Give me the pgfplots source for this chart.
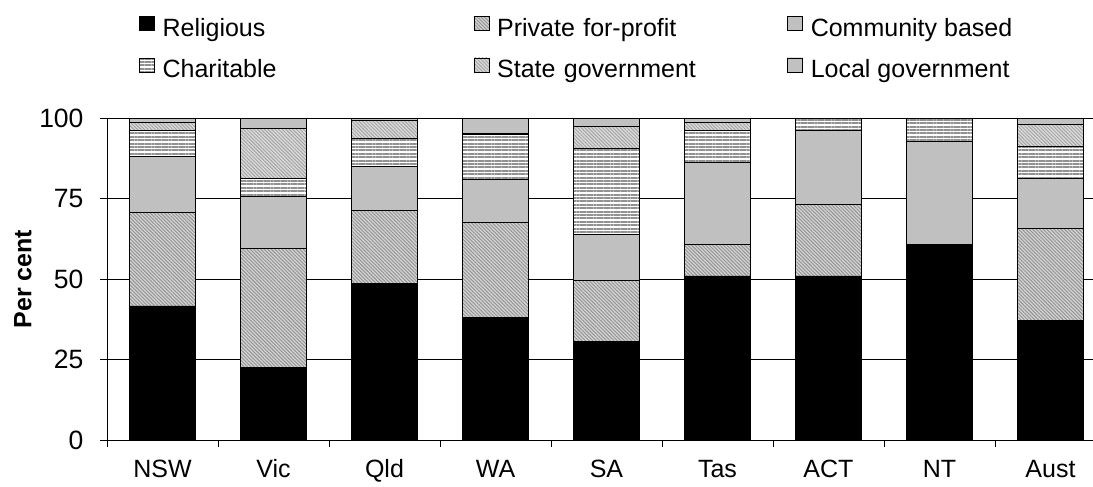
\documentclass[border=0pt]{standalone}
\usepackage{fontspec}
\setmainfont{Liberation Sans}
\usepackage{pgfplots}
\usepackage{pgfplotstable}
\pgfplotsset{compat=1.18}
\usetikzlibrary{patterns,patterns.meta}

\definecolor{comm}{RGB}{192,192,192}
\definecolor{hbg}{RGB}{210,210,210}
\definecolor{hln}{RGB}{145,145,145}
\definecolor{sbg}{RGB}{216,216,216}
\definecolor{sln}{RGB}{160,160,160}
\definecolor{cln}{RGB}{145,145,145}
\definecolor{lbg}{RGB}{215,215,215}
\definecolor{lln}{RGB}{120,120,120}

\pgfplotstableread{
x rel priv comm char state local
0 41.7 29.0 17.4 8.2 2.3 1.4
1 22.5 37.1 16.0 5.7 15.6 3.1
2 48.7 22.6 13.7 8.8 5.7 0.5
3 38.0 29.7 13.4 13.8 0.5 4.6
4 30.6 18.9 14.4 26.8 6.8 2.5
5 51.0 9.8 25.4 10.1 2.5 1.2
6 51.0 22.3 23.0 3.7 0.0 0.0
7 60.8 0.0 32.2 7.0 0.0 0.0
8 37.3 28.5 15.4 10.0 6.9 1.9
}\data

\begin{document}
\begin{tikzpicture}
\useasboundingbox (0,0) rectangle (1093pt,487pt);
\begin{axis}[
  at={(107pt,47pt)}, anchor=south west,
  scale only axis, width=986pt, height=321.7pt,
  xmin=-0.5, xmax=8.383, ymin=0, ymax=100,
  ybar stacked, bar width=0.6,
  axis x line*=bottom, axis y line*=left,
  axis line style={black, line width=0.6pt},
  ytick={0,25,50,75,100},
  xtick={-0.5,0.5,...,7.5},
  xticklabels={NSW,Vic,Qld,WA,SA,Tas,ACT,NT,Aust},
  xticklabel style={xshift=55.5pt, yshift=-9pt, text height=18pt, text depth=5pt, font=\fontsize{25}{30}\selectfont},
  yticklabel style={xshift=-13pt, font=\fontsize{26.5}{30}\selectfont},
  tick align=outside, major tick length=7pt,
  tick style={black, line width=0.6pt},
  ymajorgrids, grid style={black, line width=0.7pt},
  /pgf/number format/assume math mode=true,
  ylabel={Per cent},
  ylabel style={font=\fontsize{25}{30}\selectfont\bfseries, at={(axis description cs:-0.0852,0.5)}, anchor=center},
  legend columns=3,
  legend image code/.code={\draw[#1] (0pt,0pt) rectangle (15pt,14pt);},
  legend style={at={(axis description cs:0,1)}, anchor=north west, xshift=32pt, yshift=102pt,
    draw=none, fill=none, inner sep=0pt, outer sep=0pt,
    font=\fontsize{25}{30}\selectfont, row sep=15pt,
    nodes={inner sep=0pt, text height=18pt, text depth=6pt, align=left},
    /tikz/every odd column/.style={column sep=8pt},
    /tikz/column 2/.style={nodes={text width=311pt}},
    /tikz/column 4/.style={nodes={text width=290pt}},
  },
  legend cell align=left,
]
\addplot[fill=black, draw=black, line width=0.6pt] table[x=x,y=rel]{\data};
\addlegendentry{Religious}
\addplot[fill=hbg, draw=black, line width=0.6pt, postaction={pattern={Lines[angle=-45,distance=2.5pt,line width=0.9pt]}, pattern color=hln}] table[x=x,y=priv]{\data};
\addlegendentry{Private for-profit}
\addplot[fill=comm, draw=black, line width=0.6pt] table[x=x,y=comm]{\data};
\addlegendentry{Community based}
\addplot[fill=white, draw=black, line width=0.6pt, postaction={pattern={Lines[angle=0,distance=3.4pt,line width=2pt]}, pattern color=cln}] table[x=x,y=char]{\data};
\addlegendentry{Charitable}
\addplot[fill=sbg, draw=black, line width=0.6pt, postaction={pattern={Lines[angle=-45,distance=2.5pt,line width=0.8pt]}, pattern color=sln}] table[x=x,y=state]{\data};
\addlegendentry{State government}
\addplot[fill=lbg, draw=black, line width=0.6pt, postaction={pattern={Dots[distance=2pt,radius=0.6pt]}, pattern color=lln}] table[x=x,y=local]{\data};
\addlegendentry{Local government}
\end{axis}
\end{tikzpicture}
\end{document}
